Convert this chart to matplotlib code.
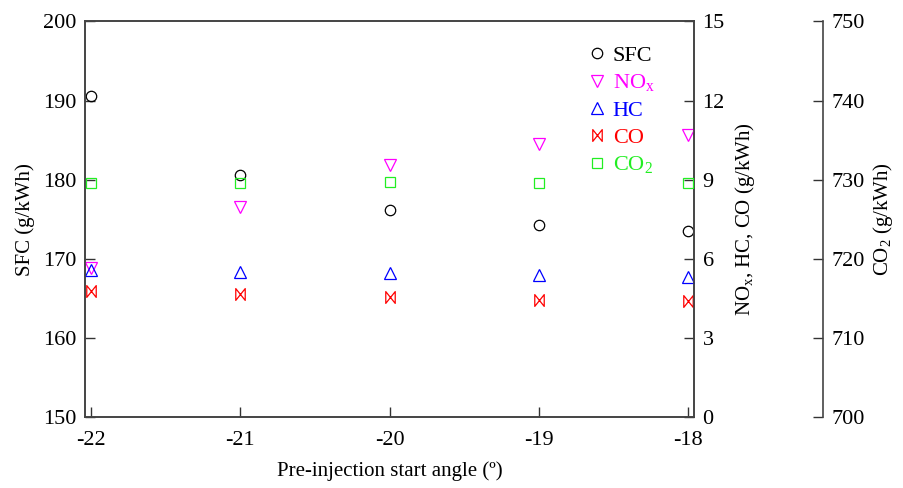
import numpy as np
import matplotlib
matplotlib.use('Agg')
import matplotlib.pyplot as plt
from matplotlib.path import Path

# ================= DATA =================
ANGLE = [-22, -21, -20, -19, -18]
SFC = [190.6, 180.6, 176.2, 174.3, 173.5]       # g/kWh, left axis
NOX = [5.65, 7.97, 9.58, 10.37, 10.71]          # g/kWh, right axis
HC = [5.58, 5.51, 5.46, 5.41, 5.33]
CO = [4.80, 4.68, 4.55, 4.45, 4.42]
CO2 = [729.6, 729.6, 729.7, 729.6, 729.6]       # g/kWh, far right axis

SFC_TICKS = [150, 160, 170, 180, 190, 200]
EMI_TICKS = [0, 3, 6, 9, 12, 15]
CO2_TICKS = [700, 710, 720, 730, 740, 750]

plt.rcParams['font.family'] = ['Liberation Serif', 'DejaVu Serif']
plt.rcParams['mathtext.fontset'] = 'custom'
plt.rcParams['mathtext.rm'] = 'Liberation Serif'
plt.rcParams['mathtext.it'] = 'Liberation Serif'
plt.rcParams['axes.unicode_minus'] = False

FS = 16

# bowtie marker for CO (vertical sides, crossing diagonals)
bowtie = Path([(-0.8, 1), (-0.8, -1), (0.8, 1), (0.8, -1), (-0.8, 1)],
              [Path.MOVETO, Path.LINETO, Path.LINETO, Path.LINETO, Path.CLOSEPOLY])

fig = plt.figure(figsize=(9.04, 4.88), dpi=100)
ax = fig.add_axes([0.094, 0.1445, 0.674, 0.8115])
ax2 = ax.twinx()
ax3 = ax.twinx()
ax3.spines['right'].set_position(('axes', 1.212))
for s in ['top', 'bottom', 'left']:
    ax3.spines[s].set_visible(False)

ms = dict(linestyle='none', fillstyle='none', markeredgewidth=0.9)
h1, = ax.plot(ANGLE, SFC, marker='o', color='black', markersize=7.5, label='SFC', **ms)
h2, = ax2.plot(ANGLE, NOX, marker='v', color='#ff00ff', markersize=8, label='NO$_\\mathregular{x}$', **ms)
h3, = ax2.plot(ANGLE, HC, marker='^', color='#0000ff', markersize=8, label='HC', **ms)
h4, = ax2.plot(ANGLE, CO, marker=bowtie, color='#ff0000', markersize=8.5, label='CO', **ms)
h5, = ax3.plot(ANGLE, CO2, marker='s', color='#22ee22', markersize=7.5, label='CO$_\\mathregular{2}$', **ms)

ax.set_xlim(-22.04, -17.96)
ax.set_ylim(150, 200)
ax2.set_ylim(0, 15)
ax3.set_ylim(700, 750)
ax.set_xticks(ANGLE)
ax.set_yticks(SFC_TICKS)
ax2.set_yticks(EMI_TICKS)
ax3.set_yticks(CO2_TICKS)

for a in (ax, ax2, ax3):
    a.tick_params(direction='in', length=7, width=1, labelsize=FS, color='#333333')
    for s in a.spines.values():
        s.set_linewidth(1.2)
        s.set_color('#444444')
ax.tick_params(axis='x', pad=10)
ax.tick_params(axis='y', pad=6)
ax2.tick_params(axis='y', pad=6)
ax3.tick_params(axis='y', pad=6)

ax.set_xlabel('Pre-injection start angle (º)', fontsize=FS - 1, labelpad=8)
ax.set_ylabel('SFC (g/kWh)', fontsize=FS - 1, labelpad=6)
ax2.set_ylabel('NO$_\\mathregular{x}$, HC, CO (g/kWh)', fontsize=FS - 1, labelpad=6)
ax3.set_ylabel('CO$_\\mathregular{2}$ (g/kWh)', fontsize=FS - 1, labelpad=4)

leg = ax.legend(handles=[h1, h2, h3, h4, h5], loc='upper left',
                bbox_to_anchor=(575 / 904, 1 - 34 / 488), bbox_transform=fig.transFigure,
                frameon=False, fontsize=FS, handlelength=1.0, handletextpad=0.2,
                labelspacing=0.3, borderpad=0, labelcolor='markeredgecolor')

fig.savefig('out.png', dpi=100)
